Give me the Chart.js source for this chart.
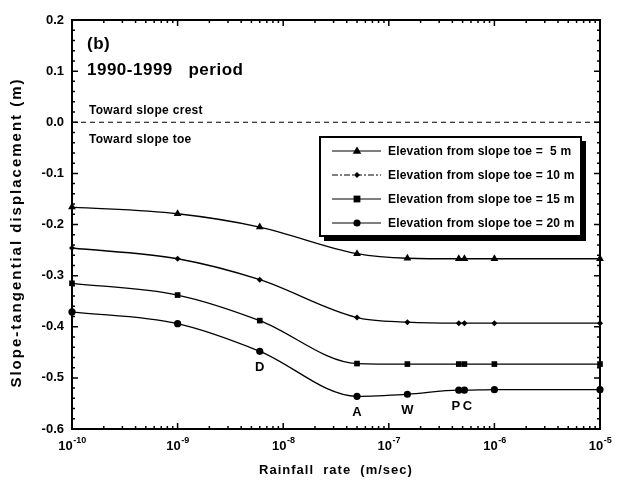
<!DOCTYPE html>
<html>
<head>
<meta charset="utf-8">
<script src="https://cdn.jsdelivr.net/npm/chart.js@4.4.0/dist/chart.umd.min.js"></script>
<style>
  html, body { margin: 0; padding: 0; background: #fff; }
  #wrap { width: 629px; height: 486px; }
</style>
</head>
<body>
<div id="wrap"><canvas id="c" width="629" height="486"></canvas></div>
<script>
// rainfall rates (m/sec) and displacements (m)
const rates = [1e-10, 1e-9, 6e-9, 5e-8, 1.5e-7, 4.6e-7, 5.2e-7, 1e-6, 1e-5];
const elev5 = [-0.166, -0.179, -0.205, -0.257, -0.266, -0.267, -0.267, -0.267, -0.267];
const elev10 = [-0.246, -0.267, -0.308, -0.382, -0.391, -0.393, -0.393, -0.393, -0.393];
const elev15 = [-0.315, -0.338, -0.388, -0.472, -0.473, -0.473, -0.473, -0.473, -0.473];
const elev20 = [-0.371, -0.394, -0.448, -0.536, -0.532, -0.524, -0.524, -0.523, -0.523];
const pointTags = ['', '', 'D', 'A', 'W', 'P', 'C', '', ''];
const xDecades = [-10, -9, -8, -7, -6, -5];
const yRange = [-0.6, 0.2];
const seriesNames = [
  'Elevation from slope toe =  5 m',
  'Elevation from slope toe = 10 m',
  'Elevation from slope toe = 15 m',
  'Elevation from slope toe = 20 m'
];
const markers = ['triangle', 'rectRot', 'rect', 'circle'];
const markerSize = [4.5, 3, 4, 3.6];

const FONT = '"Liberation Sans", Arial, Helvetica, sans-serif';
const toPoints = vals => vals.map((v, i) => ({ x: rates[i], y: v }));

function drawMarker(ctx, style, r, x, y) {
  ctx.beginPath();
  if (style === 'triangle') {
    ctx.moveTo(x, y - r);
    ctx.lineTo(x + r * 0.95, y + r * 0.6);
    ctx.lineTo(x - r * 0.95, y + r * 0.6);
    ctx.closePath();
  } else if (style === 'rectRot') {
    ctx.moveTo(x, y - r); ctx.lineTo(x + r, y); ctx.lineTo(x, y + r); ctx.lineTo(x - r, y);
    ctx.closePath();
  } else if (style === 'rect') {
    ctx.rect(x - r * 0.85, y - r * 0.85, r * 1.7, r * 1.7);
  } else {
    ctx.arc(x, y, r, 0, Math.PI * 2);
  }
  ctx.fill();
}

const decor = {
  id: 'decor',
  afterDatasetsDraw(chart) {
    const { ctx, chartArea: a, scales: { x, y } } = chart;
    ctx.save();
    ctx.strokeStyle = '#000';
    ctx.fillStyle = '#000';

    // frame
    ctx.lineWidth = 2;
    ctx.strokeRect(a.left, a.top, a.right - a.left, a.bottom - a.top);

    // inward ticks, y (major 0.1, minor 0.02)
    ctx.lineWidth = 1.5;
    for (let k = Math.round(yRange[0] * 50); k <= Math.round(yRange[1] * 50); k++) {
      const py = y.getPixelForValue(k / 50);
      const len = k % 5 === 0 ? 6 : 3;
      ctx.beginPath();
      ctx.moveTo(a.left, py); ctx.lineTo(a.left + len, py);
      ctx.moveTo(a.right, py); ctx.lineTo(a.right - len, py);
      ctx.stroke();
    }
    // inward ticks, x (log decades + minors)
    xDecades.forEach((e, i) => {
      for (let m = 1; m <= 9; m++) {
        if (i === xDecades.length - 1 && m > 1) break;
        const px = x.getPixelForValue(m * Math.pow(10, e));
        const len = m === 1 ? 6 : 3;
        ctx.beginPath();
        ctx.moveTo(px, a.bottom); ctx.lineTo(px, a.bottom - len);
        ctx.moveTo(px, a.top); ctx.lineTo(px, a.top + len);
        ctx.stroke();
      }
    });

    // x tick labels with superscript exponent
    ctx.textBaseline = 'alphabetic';
    xDecades.forEach(e => {
      const px = x.getPixelForValue(Math.pow(10, e));
      ctx.font = 'bold 13px ' + FONT;
      const wb = ctx.measureText('10').width;
      ctx.font = 'bold 9px ' + FONT;
      const we = ctx.measureText(String(e)).width;
      const x0 = px - (wb + we) / 2;
      ctx.font = 'bold 13px ' + FONT;
      ctx.textAlign = 'left';
      ctx.fillText('10', x0, a.bottom + 21);
      ctx.font = 'bold 9px ' + FONT;
      ctx.fillText(String(e), x0 + wb + 0.5, a.bottom + 14);
    });

    // axis titles
    ctx.letterSpacing = '1px';
    ctx.font = 'bold 13px ' + FONT;
    ctx.textAlign = 'center';
    ctx.textBaseline = 'middle';
    ctx.fillText('Rainfall  rate  (m/sec)', (a.left + a.right) / 2, 470);
    ctx.save();
    ctx.translate(17, (a.top + a.bottom) / 2 + 8);
    ctx.rotate(-Math.PI / 2);
    ctx.letterSpacing = '2px';
    ctx.font = 'bold 15px ' + FONT;
    ctx.fillText('Slope-tangential displacement (m)', 0, 0);
    ctx.restore();

    // panel annotations
    ctx.letterSpacing = '0.5px';
    ctx.textAlign = 'left';
    ctx.font = 'bold 17px ' + FONT;
    ctx.fillText('(b)', a.left + 15, 44);
    ctx.font = 'bold 17px ' + FONT;
    ctx.fillText('1990-1999   period', a.left + 15, 70);
    ctx.font = 'bold 12px ' + FONT;
    ctx.letterSpacing = '0.3px';
    ctx.fillText('Toward slope crest', a.left + 17, y.getPixelForValue(0) - 12);
    ctx.fillText('Toward slope toe', a.left + 17, y.getPixelForValue(0) + 17);

    // point tags under the 20 m curve
    ctx.font = 'bold 13px ' + FONT;
    ctx.textAlign = 'center';
    ctx.letterSpacing = '0px';
    pointTags.forEach((t, i) => {
      if (!t) return;
      let px = x.getPixelForValue(rates[i]);
      if (t === 'P') px -= 3;
      if (t === 'C') px += 3;
      ctx.fillText(t, px, y.getPixelForValue(elev20[i]) + 16);
    });

    // legend box
    const lx = 320, ly = 137, lw = 261, lh = 99;
    ctx.fillStyle = '#fff';
    ctx.fillRect(lx, ly, lw, lh);
    ctx.fillStyle = '#000';
    ctx.fillRect(lx + 4, ly + lh, lw, 5);
    ctx.fillRect(lx + lw, ly + 4, 5, lh + 1);
    ctx.lineWidth = 2;
    ctx.strokeRect(lx, ly, lw, lh);
    seriesNames.forEach((name, i) => {
      const ry = ly + 14 + i * 24;
      ctx.lineWidth = 1.2;
      ctx.setLineDash(i === 1 ? [6, 2, 2, 2] : []);
      ctx.beginPath();
      ctx.moveTo(lx + 12, ry); ctx.lineTo(lx + 61, ry);
      ctx.stroke();
      ctx.setLineDash([]);
      drawMarker(ctx, markers[i], markerSize[i], lx + 37, ry);
      ctx.font = 'bold 12px ' + FONT;
      ctx.textAlign = 'left';
      ctx.textBaseline = 'middle';
      ctx.letterSpacing = '0.2px';
      ctx.fillText(name, lx + 68, ry + 1);
    });
    ctx.restore();
  }
};

const seriesData = [elev5, elev10, elev15, elev20];
const datasets = seriesData.map((vals, i) => ({
  label: seriesNames[i],
  data: toPoints(vals),
  borderColor: '#000',
  backgroundColor: '#000',
  borderWidth: 1.3,
  pointStyle: markers[i],
  pointRadius: markerSize[i],
  pointBorderWidth: 0,
  cubicInterpolationMode: 'monotone',
  clip: 8
}));
datasets.push({
  label: 'zero',
  data: [{ x: rates[0], y: 0 }, { x: rates[rates.length - 1], y: 0 }],
  borderColor: '#000',
  borderWidth: 1.2,
  borderDash: [5, 4],
  pointRadius: 0
});

new Chart(document.getElementById('c'), {
  type: 'line',
  data: { datasets },
  plugins: [decor],
  options: {
    responsive: false,
    animation: false,
    layout: { padding: { left: 0, top: 20, right: 29, bottom: 0 } },
    plugins: { legend: { display: false }, tooltip: { enabled: false } },
    scales: {
      x: {
        type: 'logarithmic',
        min: 1e-10,
        max: 1e-5,
        grid: { display: false },
        border: { display: false },
        ticks: { display: false },
        afterFit: s => { s.height = 57; }
      },
      y: {
        min: yRange[0],
        max: yRange[1],
        grid: { display: false, drawTicks: false },
        border: { display: false },
        ticks: {
          stepSize: 0.1,
          padding: 8,
          color: '#000',
          font: { family: FONT, size: 13, weight: 'bold' },
          callback: v => v.toFixed(1)
        },
        afterFit: s => { s.width = 72; }
      }
    }
  }
});
</script>
</body>
</html>
